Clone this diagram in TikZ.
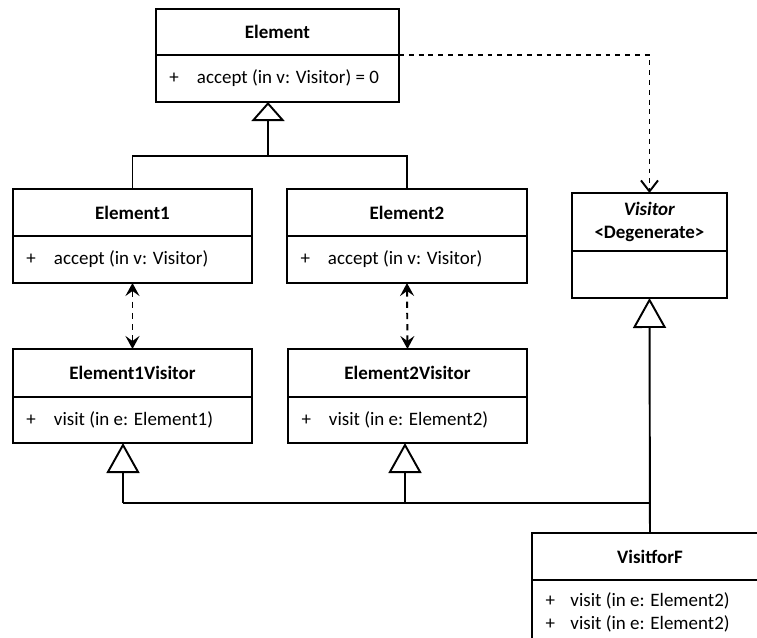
\documentclass[tikz,border=0pt]{standalone}
\usepackage{fontspec}
\setmainfont{Carlito}
\usetikzlibrary{arrows.meta}
\tikzstyle{every path}=[line width=1.1pt]
\tikzstyle{every node}=[font=\fontsize{10.8}{13}\selectfont]
\tikzstyle{classhead}=[draw, anchor=north west, inner sep=0pt, outer sep=0pt, align=center,
    font=\fontsize{10.8}{13}\selectfont\bfseries]
\tikzstyle{classbody}=[draw, anchor=north west, inner sep=0pt, outer sep=0pt]
\tikzstyle{memberlist}=[anchor=west, inner xsep=0.27cm, inner ysep=0pt, outer sep=0pt, align=left]
\tikzstyle{inherit}=[-{Triangle[open, length=0.6cm, width=0.66cm]}]
\tikzstyle{inheritshort}=[-{Triangle[open, length=0.38cm, width=0.66cm]}]
\tikzstyle{uses}=[dash pattern=on 3.6pt off 2.8pt,
    {Stealth[length=0.26cm, width=0.28cm, inset=0.1cm]}-{Stealth[length=0.26cm, width=0.28cm, inset=0.1cm]}]
\tikzstyle{depends}=[dash pattern=on 2.8pt off 2.8pt, -{Straight Barb[length=0.22cm, width=0.34cm]}]

\begin{document}
\begin{tikzpicture}[x=0.02cm, y=-0.02cm]
    \useasboundingbox (0, 0) rectangle (757, 637);

    % the abstract element
    \node[classhead, minimum width=4.86cm, minimum height=0.92cm] (elhead) at (156, 9) {Element};
    \node[classbody, minimum width=4.86cm, minimum height=0.94cm,
        label={[memberlist]west:{\makebox[0.55cm][l]{+}accept (in v: Visitor) = 0}}]
        (elbody) at (elhead.south west) {};

    % concrete elements
    \node[classhead, minimum width=4.78cm, minimum height=0.94cm] (e1head) at (13, 189) {Element1};
    \node[classbody, minimum width=4.78cm, minimum height=0.94cm,
        label={[memberlist]west:{\makebox[0.55cm][l]{+}accept (in v: Visitor)}}]
        (e1body) at (e1head.south west) {};
    \node[classhead, minimum width=4.8cm, minimum height=0.94cm] (e2head) at (287, 189) {Element2};
    \node[classbody, minimum width=4.8cm, minimum height=0.94cm,
        label={[memberlist]west:{\makebox[0.55cm][l]{+}accept (in v: Visitor)}}]
        (e2body) at (e2head.south west) {};

    % visitors of the elements
    \node[classhead, minimum width=4.78cm, minimum height=0.96cm] (e1vhead) at (13, 349) {Element1Visitor};
    \node[classbody, minimum width=4.78cm, minimum height=0.92cm,
        label={[memberlist]west:{\makebox[0.55cm][l]{+}visit (in e: Element1)}}]
        (e1vbody) at (e1vhead.south west) {};
    \node[classhead, minimum width=4.78cm, minimum height=0.96cm] (e2vhead) at (288, 349) {Element2Visitor};
    \node[classbody, minimum width=4.78cm, minimum height=0.92cm,
        label={[memberlist]west:{\makebox[0.55cm][l]{+}visit (in e: Element2)}}]
        (e2vbody) at (e2vhead.south west) {};

    % degenerate visitor
    \node[classhead, minimum width=3.1cm, minimum height=1.16cm] (vishead) at (572, 193)
        {\textit{Visitor}\\<Degenerate>};
    \node[classbody, minimum width=3.1cm, minimum height=0.94cm] (visbody) at (vishead.south west) {};

    \node[classhead, minimum width=4.72cm, minimum height=0.94cm] (vfhead) at (532, 533) {VisitforF};
    \node[classbody, minimum width=4.72cm, minimum height=1.28cm,
        label={[memberlist]west:{\makebox[0.5cm][l]{+}visit (in e: Element2)\\
            \makebox[0.5cm][l]{+}visit (in e: Element2)}}]
        (vfbody) at (vfhead.south west) {};

    % generalisation
    \coordinate (etip) at (268, 102);
    \coordinate (ebus) at (268, 156);
    \draw (e1head.north) |- (ebus) -| (e2head.north);
    \draw[inheritshort] (ebus) -- (etip);

    \coordinate (e1vtip) at (123, 443);
    \coordinate (e2vtip) at (405, 443);
    \coordinate (vbus) at (123, 503);
    \draw[inherit] (vbus) -- (e1vtip);
    \draw[inherit] (vbus -| e2vtip) -- (e2vtip);
    \draw (vbus) -- (vbus -| vfhead.north);
    \draw[inherit] (vfhead.north) -- (visbody.south);

    % dependencies
    \draw[uses] (e1body.south) -- (e1vhead.north);
    \draw[uses] (e2body.south) -- (e2vhead.north);
    \draw[depends] (elhead.south east) -| (vishead.north);
\end{tikzpicture}
\end{document}
